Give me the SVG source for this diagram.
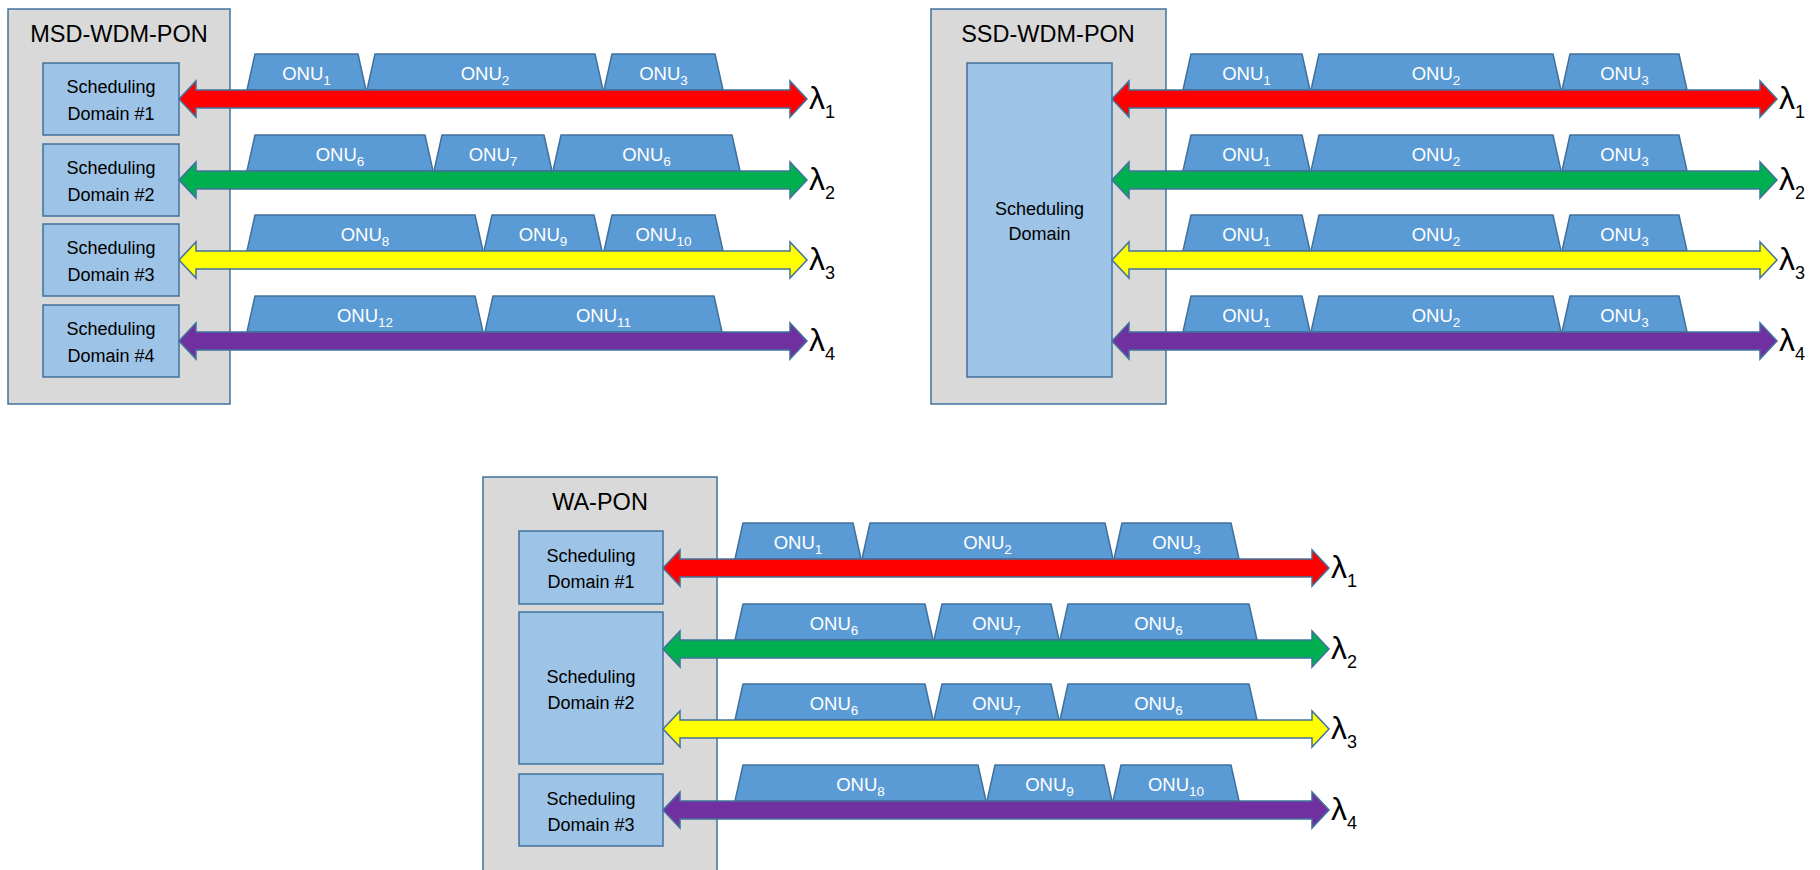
<svg xmlns="http://www.w3.org/2000/svg" width="1820" height="870" viewBox="0 0 1820 870">
<style>
.panel{fill:#D9D9D9;stroke:#41719C;stroke-width:1.5}
.dom{fill:#9DC3E6;stroke:#41719C;stroke-width:1.5}
.onu{fill:#5B9BD5;stroke:#41719C;stroke-width:1.5;stroke-linejoin:round}
.arr{stroke:#41719C;stroke-width:1.5;stroke-linejoin:miter}
.title{font-family:"Liberation Sans",Arial,sans-serif;font-size:23.5px;fill:#000;text-anchor:middle}
.dt{font-family:"Liberation Sans",Arial,sans-serif;font-size:18px;fill:#000;text-anchor:middle}
.ot{font-family:"Liberation Sans",Arial,sans-serif;font-size:18.5px;fill:#fff;text-anchor:middle}
.ot tspan{font-size:13.5px}
.lam{font-family:"Liberation Sans",Arial,sans-serif;font-size:32px;fill:#000}
.lam tspan{font-size:18px}
.r{fill:#FF0000}.g{fill:#00B050}.y{fill:#FFFF00}.p{fill:#7030A0}
</style>
<rect width="1820" height="870" fill="#fff"/>

<!-- MSD-WDM-PON -->
<g id="msd-panel">
<rect class="panel" x="8" y="9" width="222" height="395"/>
<text class="title" x="119" y="42">MSD-WDM-PON</text>
</g>
<g id="msd-dom1"><rect class="dom" x="43" y="63" width="136" height="72"/><text class="dt" x="111" y="93">Scheduling</text><text class="dt" x="111" y="119.5">Domain #1</text></g>
<g id="msd-dom2"><rect class="dom" x="43" y="144" width="136" height="72"/><text class="dt" x="111" y="174">Scheduling</text><text class="dt" x="111" y="200.5">Domain #2</text></g>
<g id="msd-dom3"><rect class="dom" x="43" y="224" width="136" height="72"/><text class="dt" x="111" y="254">Scheduling</text><text class="dt" x="111" y="280.5">Domain #3</text></g>
<g id="msd-dom4"><rect class="dom" x="43" y="305" width="136" height="72"/><text class="dt" x="111" y="335">Scheduling</text><text class="dt" x="111" y="361.5">Domain #4</text></g>

<g id="msd-r1-onu1"><polygon class="onu" points="247,90 255,54 358,54 366,90"/><text class="ot" x="306.5" y="80">ONU<tspan dy="5">1</tspan></text></g>
<g id="msd-r1-onu2"><polygon class="onu" points="367,90 375,54 595,54 603,90"/><text class="ot" x="485" y="80">ONU<tspan dy="5">2</tspan></text></g>
<g id="msd-r1-onu3"><polygon class="onu" points="604,90 612,54 715,54 723,90"/><text class="ot" x="663.5" y="80">ONU<tspan dy="5">3</tspan></text></g>

<g id="msd-r2-onu6a"><polygon class="onu" points="247,171 255,135 425,135 433,171"/><text class="ot" x="340" y="161">ONU<tspan dy="5">6</tspan></text></g>
<g id="msd-r2-onu7"><polygon class="onu" points="434,171 442,135 544,135 552,171"/><text class="ot" x="493" y="161">ONU<tspan dy="5">7</tspan></text></g>
<g id="msd-r2-onu6b"><polygon class="onu" points="553,171 561,135 732,135 740,171"/><text class="ot" x="646.5" y="161">ONU<tspan dy="5">6</tspan></text></g>

<g id="msd-r3-onu8"><polygon class="onu" points="247,251 255,215 475,215 483,251"/><text class="ot" x="365" y="241">ONU<tspan dy="5">8</tspan></text></g>
<g id="msd-r3-onu9"><polygon class="onu" points="484,251 492,215 594,215 602,251"/><text class="ot" x="543" y="241">ONU<tspan dy="5">9</tspan></text></g>
<g id="msd-r3-onu10"><polygon class="onu" points="604,251 612,215 715,215 723,251"/><text class="ot" x="663.5" y="241">ONU<tspan dy="5">10</tspan></text></g>

<g id="msd-r4-onu12"><polygon class="onu" points="247,332 255,296 475,296 483,332"/><text class="ot" x="365" y="322">ONU<tspan dy="5">12</tspan></text></g>
<g id="msd-r4-onu11"><polygon class="onu" points="485,332 493,296 714,296 722,332"/><text class="ot" x="603.5" y="322">ONU<tspan dy="5">11</tspan></text></g>

<!-- SSD-WDM-PON -->
<g id="ssd-panel">
<rect class="panel" x="931" y="9" width="235" height="395"/>
<text class="title" x="1048" y="42">SSD-WDM-PON</text>
</g>
<g id="ssd-dom"><rect class="dom" x="967" y="63" width="145" height="314"/><text class="dt" x="1039.5" y="215">Scheduling</text><text class="dt" x="1039.5" y="240">Domain</text></g>

<g id="ssd-r1-onu1"><polygon class="onu" points="1183,90 1191,54 1302,54 1310,90"/><text class="ot" x="1246.5" y="80">ONU<tspan dy="5">1</tspan></text></g>
<g id="ssd-r1-onu2"><polygon class="onu" points="1311,90 1319,54 1553,54 1561,90"/><text class="ot" x="1436" y="80">ONU<tspan dy="5">2</tspan></text></g>
<g id="ssd-r1-onu3"><polygon class="onu" points="1562,90 1570,54 1679,54 1687,90"/><text class="ot" x="1624.5" y="80">ONU<tspan dy="5">3</tspan></text></g>

<g id="ssd-r2-onu1"><polygon class="onu" points="1183,171 1191,135 1302,135 1310,171"/><text class="ot" x="1246.5" y="161">ONU<tspan dy="5">1</tspan></text></g>
<g id="ssd-r2-onu2"><polygon class="onu" points="1311,171 1319,135 1553,135 1561,171"/><text class="ot" x="1436" y="161">ONU<tspan dy="5">2</tspan></text></g>
<g id="ssd-r2-onu3"><polygon class="onu" points="1562,171 1570,135 1679,135 1687,171"/><text class="ot" x="1624.5" y="161">ONU<tspan dy="5">3</tspan></text></g>

<g id="ssd-r3-onu1"><polygon class="onu" points="1183,251 1191,215 1302,215 1310,251"/><text class="ot" x="1246.5" y="241">ONU<tspan dy="5">1</tspan></text></g>
<g id="ssd-r3-onu2"><polygon class="onu" points="1311,251 1319,215 1553,215 1561,251"/><text class="ot" x="1436" y="241">ONU<tspan dy="5">2</tspan></text></g>
<g id="ssd-r3-onu3"><polygon class="onu" points="1562,251 1570,215 1679,215 1687,251"/><text class="ot" x="1624.5" y="241">ONU<tspan dy="5">3</tspan></text></g>

<g id="ssd-r4-onu1"><polygon class="onu" points="1183,332 1191,296 1302,296 1310,332"/><text class="ot" x="1246.5" y="322">ONU<tspan dy="5">1</tspan></text></g>
<g id="ssd-r4-onu2"><polygon class="onu" points="1311,332 1319,296 1553,296 1561,332"/><text class="ot" x="1436" y="322">ONU<tspan dy="5">2</tspan></text></g>
<g id="ssd-r4-onu3"><polygon class="onu" points="1562,332 1570,296 1679,296 1687,332"/><text class="ot" x="1624.5" y="322">ONU<tspan dy="5">3</tspan></text></g>

<!-- WA-PON -->
<g id="wa-panel">
<rect class="panel" x="483" y="477" width="234" height="410"/>
<text class="title" x="600" y="510">WA-PON</text>
</g>
<g id="wa-dom1"><rect class="dom" x="519" y="531" width="144" height="73"/><text class="dt" x="591" y="561.5">Scheduling</text><text class="dt" x="591" y="588">Domain #1</text></g>
<g id="wa-dom2"><rect class="dom" x="519" y="612" width="144" height="152"/><text class="dt" x="591" y="683">Scheduling</text><text class="dt" x="591" y="708.5">Domain #2</text></g>
<g id="wa-dom3"><rect class="dom" x="519" y="774" width="144" height="72"/><text class="dt" x="591" y="805">Scheduling</text><text class="dt" x="591" y="830.5">Domain #3</text></g>

<g id="wa-r1-onu1"><polygon class="onu" points="735,559 743,523 853,523 861,559"/><text class="ot" x="798" y="549">ONU<tspan dy="5">1</tspan></text></g>
<g id="wa-r1-onu2"><polygon class="onu" points="862,559 870,523 1105,523 1113,559"/><text class="ot" x="987.5" y="549">ONU<tspan dy="5">2</tspan></text></g>
<g id="wa-r1-onu3"><polygon class="onu" points="1114,559 1122,523 1231,523 1239,559"/><text class="ot" x="1176.5" y="549">ONU<tspan dy="5">3</tspan></text></g>

<g id="wa-r2-onu6a"><polygon class="onu" points="735,640 743,604 925,604 933,640"/><text class="ot" x="834" y="630">ONU<tspan dy="5">6</tspan></text></g>
<g id="wa-r2-onu7"><polygon class="onu" points="934,640 942,604 1051,604 1059,640"/><text class="ot" x="996.5" y="630">ONU<tspan dy="5">7</tspan></text></g>
<g id="wa-r2-onu6b"><polygon class="onu" points="1060,640 1068,604 1249,604 1257,640"/><text class="ot" x="1158.5" y="630">ONU<tspan dy="5">6</tspan></text></g>

<g id="wa-r3-onu6a"><polygon class="onu" points="735,720 743,684 925,684 933,720"/><text class="ot" x="834" y="710">ONU<tspan dy="5">6</tspan></text></g>
<g id="wa-r3-onu7"><polygon class="onu" points="934,720 942,684 1051,684 1059,720"/><text class="ot" x="996.5" y="710">ONU<tspan dy="5">7</tspan></text></g>
<g id="wa-r3-onu6b"><polygon class="onu" points="1060,720 1068,684 1249,684 1257,720"/><text class="ot" x="1158.5" y="710">ONU<tspan dy="5">6</tspan></text></g>

<g id="wa-r4-onu8"><polygon class="onu" points="735,801 743,765 978,765 986,801"/><text class="ot" x="860.5" y="791">ONU<tspan dy="5">8</tspan></text></g>
<g id="wa-r4-onu9"><polygon class="onu" points="987,801 995,765 1104,765 1112,801"/><text class="ot" x="1049.5" y="791">ONU<tspan dy="5">9</tspan></text></g>
<g id="wa-r4-onu10"><polygon class="onu" points="1113,801 1121,765 1231,765 1239,801"/><text class="ot" x="1176" y="791">ONU<tspan dy="5">10</tspan></text></g>

<!-- connectors: wavelength channels -->
<g id="connectors">
<path class="arr r" d="M179 99 l17 -18 v9 H790 v-9 l17 18 l-17 18 v-9 H196 v9 z"/>
<path class="arr g" d="M179 180 l17 -18 v9 H790 v-9 l17 18 l-17 18 v-9 H196 v9 z"/>
<path class="arr y" d="M179 260 l17 -18 v9 H790 v-9 l17 18 l-17 18 v-9 H196 v9 z"/>
<path class="arr p" d="M179 341 l17 -18 v9 H790 v-9 l17 18 l-17 18 v-9 H196 v9 z"/>

<path class="arr r" d="M1112 99 l17 -18 v9 H1760 v-9 l17 18 l-17 18 v-9 H1129 v9 z"/>
<path class="arr g" d="M1112 180 l17 -18 v9 H1760 v-9 l17 18 l-17 18 v-9 H1129 v9 z"/>
<path class="arr y" d="M1112 260 l17 -18 v9 H1760 v-9 l17 18 l-17 18 v-9 H1129 v9 z"/>
<path class="arr p" d="M1112 341 l17 -18 v9 H1760 v-9 l17 18 l-17 18 v-9 H1129 v9 z"/>

<path class="arr r" d="M663 568 l17 -18 v9 H1312 v-9 l17 18 l-17 18 v-9 H680 v9 z"/>
<path class="arr g" d="M663 649 l17 -18 v9 H1312 v-9 l17 18 l-17 18 v-9 H680 v9 z"/>
<path class="arr y" d="M663 729 l17 -18 v9 H1312 v-9 l17 18 l-17 18 v-9 H680 v9 z"/>
<path class="arr p" d="M663 810 l17 -18 v9 H1312 v-9 l17 18 l-17 18 v-9 H680 v9 z"/>
</g>

<g id="labels">
<text class="lam" x="809" y="109">λ<tspan dy="9">1</tspan></text>
<text class="lam" x="809" y="190">λ<tspan dy="9">2</tspan></text>
<text class="lam" x="809" y="270">λ<tspan dy="9">3</tspan></text>
<text class="lam" x="809" y="351">λ<tspan dy="9">4</tspan></text>
<text class="lam" x="1779" y="109">λ<tspan dy="9">1</tspan></text>
<text class="lam" x="1779" y="190">λ<tspan dy="9">2</tspan></text>
<text class="lam" x="1779" y="270">λ<tspan dy="9">3</tspan></text>
<text class="lam" x="1779" y="351">λ<tspan dy="9">4</tspan></text>
<text class="lam" x="1331" y="578">λ<tspan dy="9">1</tspan></text>
<text class="lam" x="1331" y="659">λ<tspan dy="9">2</tspan></text>
<text class="lam" x="1331" y="739">λ<tspan dy="9">3</tspan></text>
<text class="lam" x="1331" y="820">λ<tspan dy="9">4</tspan></text>
</g>
</svg>
